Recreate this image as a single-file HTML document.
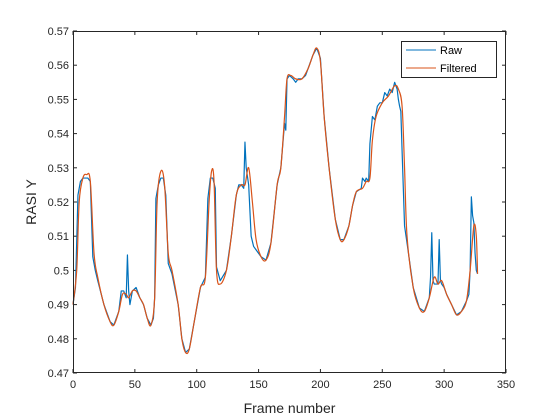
<!DOCTYPE html>
<html><head><meta charset="utf-8"><style>body{margin:0;background:#fff}svg{display:block;font-family:"Liberation Sans",sans-serif}</style></head>
<body>
<svg id="c" width="560" height="420" xmlns="http://www.w3.org/2000/svg"></svg>
<script>
const xTicks=[0,50,100,150,200,250,300,350];
const yTicks=[0.47,0.48,0.49,0.5,0.51,0.52,0.53,0.54,0.55,0.56,0.57];
const yTickLabels=["0.47","0.48","0.49","0.5","0.51","0.52","0.53","0.54","0.55","0.56","0.57"];
const filtFrames=[0,3,5,8,11,14,17,20,25,30,33,37,40,43,45,48,51,54,57,60,63,66,68,71,74,77,80,85,88,91,94,98,103,107,110,112,114,116,119,124,128,132,136,139,142,145,148,152,156,160,165,168,171,173,176,180,185,190,194,197,200,203,207,212,216,219,223,226,229,234,237,240,242,245,250,255,260,263,266,268,270,275,280,284,288,292,295,298,302,306,310,314,318,321,324,326,327];
const filtValues=[0.490,0.500,0.520,0.527,0.528,0.526,0.505,0.498,0.490,0.485,0.484,0.488,0.493,0.493,0.492,0.494,0.494,0.492,0.490,0.486,0.484,0.492,0.520,0.529,0.525,0.505,0.500,0.490,0.480,0.476,0.477,0.485,0.495,0.498,0.520,0.529,0.526,0.500,0.496,0.500,0.510,0.522,0.525,0.525,0.530,0.520,0.509,0.504,0.503,0.508,0.525,0.530,0.545,0.556,0.557,0.556,0.556,0.559,0.563,0.565,0.561,0.545,0.530,0.515,0.509,0.509,0.513,0.519,0.523,0.524,0.526,0.527,0.538,0.545,0.549,0.551,0.554,0.553,0.548,0.530,0.510,0.495,0.489,0.488,0.492,0.498,0.496,0.497,0.493,0.490,0.487,0.488,0.491,0.500,0.513,0.510,0.499];
const rawFrames=[0,2,4,6,8,10,12,14,16,18,20,25,30,33,37,39,41,43,44,45,46,48,51,54,57,60,63,65,66,67,69,71,73,75,77,80,85,88,91,94,98,103,107,109,111,113,115,116,119,124,128,132,134,136,138,139,140,142,144,146,148,152,156,160,165,168,171,172,173,175,178,180,182,185,188,190,194,197,200,203,207,212,216,219,223,226,229,233,234,236,237,239,240,242,244,246,248,250,252,254,256,258,260,262,263,264,265,266,268,270,275,280,284,288,289,290,291,292,295,296,297,298,300,302,306,310,314,318,320,321,322,323,324,325,326,327];
const rawValues=[0.490,0.495,0.522,0.526,0.527,0.527,0.527,0.526,0.504,0.500,0.497,0.490,0.485,0.484,0.488,0.494,0.494,0.492,0.5045,0.494,0.490,0.494,0.495,0.492,0.490,0.486,0.484,0.486,0.492,0.521,0.525,0.527,0.527,0.522,0.502,0.499,0.490,0.480,0.476,0.477,0.485,0.495,0.498,0.521,0.527,0.527,0.524,0.501,0.497,0.500,0.510,0.522,0.525,0.525,0.524,0.5375,0.530,0.525,0.510,0.507,0.506,0.504,0.503,0.508,0.525,0.530,0.543,0.541,0.556,0.557,0.556,0.555,0.556,0.556,0.557,0.559,0.563,0.565,0.562,0.545,0.530,0.515,0.509,0.509,0.513,0.519,0.523,0.524,0.527,0.526,0.527,0.526,0.537,0.545,0.544,0.548,0.549,0.549,0.552,0.551,0.553,0.552,0.555,0.553,0.550,0.548,0.5465,0.535,0.513,0.508,0.495,0.489,0.488,0.492,0.498,0.511,0.497,0.496,0.496,0.509,0.497,0.496,0.495,0.493,0.490,0.487,0.488,0.491,0.493,0.500,0.5215,0.516,0.514,0.505,0.500,0.499];
const L=73,R=506,T=31,B=373;
const sx=f=>L+(f-0)/(350-0)*(R-L);
const sy=v=>B-(v-0.47)/(0.57-0.47)*(B-T);
const svg=document.getElementById('c');const NS='http://www.w3.org/2000/svg';
function mk(t,a,p){const e=document.createElementNS(NS,t);for(const k in a)e.setAttribute(k,a[k]);(p||svg).appendChild(e);return e;}
const ax=mk('rect',{x:L,y:T,width:R-L,height:B-T,fill:'#fff',stroke:'none'});


xTicks.forEach(t=>{const x=sx(t);
 const l1=mk('line',{x1:x,y1:B,x2:x,y2:B-4,stroke:'#262626','stroke-width':1});
 
 
 const l2=mk('line',{x1:x,y1:T,x2:x,y2:T+4,stroke:'#262626','stroke-width':1});
 
 
 const tx=mk('text',{x:x,y:B+15,'text-anchor':'middle','font-size':11,fill:'#262626'});tx.textContent=t;
 
 });
yTicks.forEach((t,i)=>{const y=sy(t);
 const l1=mk('line',{x1:L,y1:y,x2:L+4,y2:y,stroke:'#262626','stroke-width':1});
 
 
 const l2=mk('line',{x1:R,y1:y,x2:R-4,y2:y,stroke:'#262626','stroke-width':1});
 
 
 const tx=mk('text',{x:L-4,y:y+4,'text-anchor':'end','font-size':11,fill:'#262626'});tx.textContent=yTickLabels[i];
 
 });
function line(fr,vals,col,name,smooth){
 const P=fr.map((f,i)=>[sx(f),sy(vals[i])]);
 let d='M'+P[0][0].toFixed(2)+','+P[0][1].toFixed(2);
 for(let i=0;i<P.length-1;i++){
  if(!smooth){d+='L'+P[i+1][0].toFixed(2)+','+P[i+1][1].toFixed(2);continue;}
  const p0=P[Math.max(0,i-1)],p1=P[i],p2=P[i+1],p3=P[Math.min(P.length-1,i+2)];
  const c1=[p1[0]+(p2[0]-p0[0])/6,p1[1]+(p2[1]-p0[1])/6],c2=[p2[0]-(p3[0]-p1[0])/6,p2[1]-(p3[1]-p1[1])/6];
  d+='C'+c1[0].toFixed(2)+','+c1[1].toFixed(2)+' '+c2[0].toFixed(2)+','+c2[1].toFixed(2)+' '+p2[0].toFixed(2)+','+p2[1].toFixed(2);}
 const p=mk('path',{d:d,fill:'none',stroke:col,'stroke-width':1.2,'stroke-linejoin':'round'});
 
 }
line(rawFrames,rawValues,'#0072bd','raw-series',false);
line(filtFrames,filtValues,'#d95319','filtered-series',true);
const bx=mk('rect',{x:L+0.5,y:T+0.5,width:R-L-1,height:B-T-1,fill:'none',stroke:'#262626','stroke-width':1});


const g=mk('g',{});


mk('rect',{x:401.5,y:41.5,width:95,height:36,fill:'#fff',stroke:'#262626','stroke-width':1},g);
const e1=mk('line',{x1:406,y1:50,x2:436,y2:50,stroke:'#0072bd','stroke-width':1},g);


const t1=mk('text',{x:440,y:54,'font-size':11,fill:'#000'},g);t1.textContent='Raw';


const e2=mk('line',{x1:406,y1:68,x2:436,y2:68,stroke:'#d95319','stroke-width':1},g);


const t2=mk('text',{x:440,y:72,'font-size':11,fill:'#000'},g);t2.textContent='Filtered';


const xl=mk('text',{x:(L+R)/2,y:413,'text-anchor':'middle','font-size':14,fill:'#262626'});xl.textContent='Frame number';


const yl=mk('text',{x:0,y:0,'text-anchor':'middle','font-size':14,fill:'#262626',transform:'translate(36,'+((T+B)/2)+') rotate(-90)'});yl.textContent='RASI Y';


</script>
</body></html>
